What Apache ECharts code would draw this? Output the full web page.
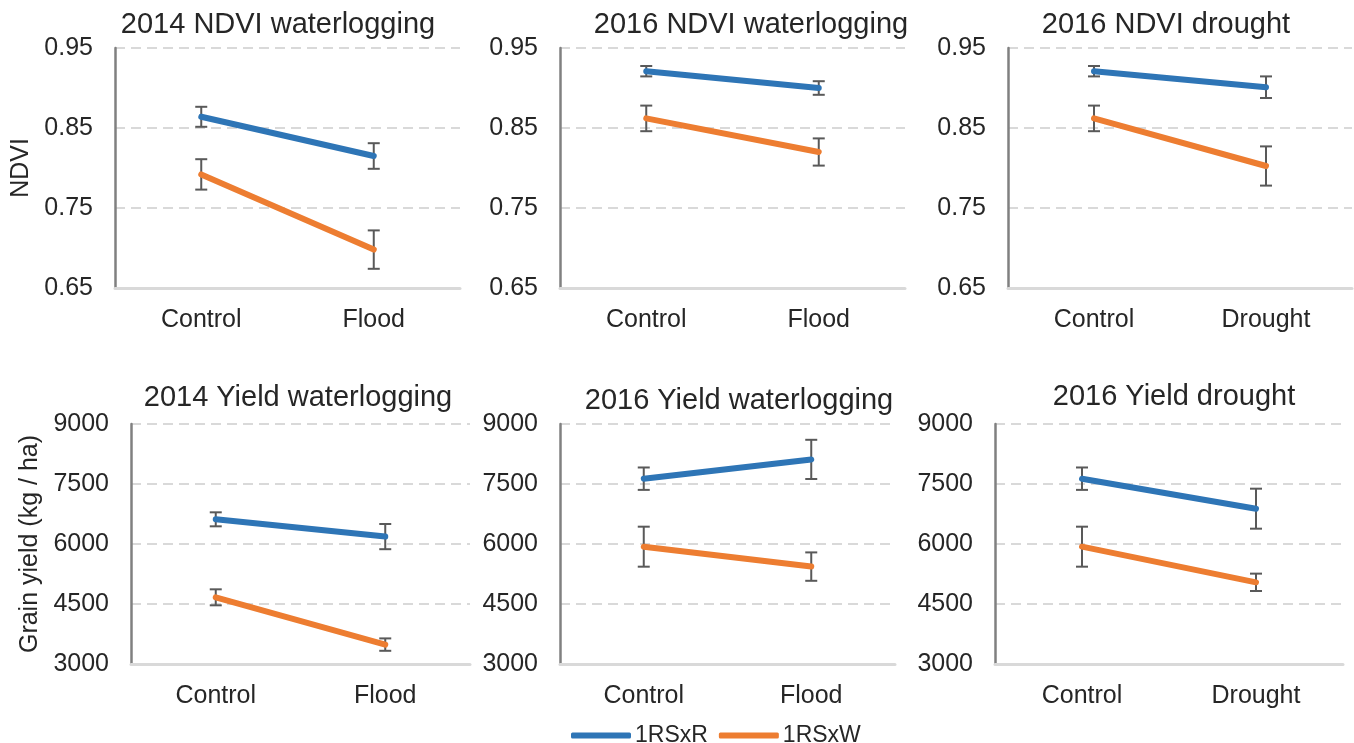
<!DOCTYPE html>
<html>
<head>
<meta charset="utf-8">
<title>NDVI and grain yield under waterlogging and drought</title>
<script src="https://cdn.jsdelivr.net/npm/echarts@6/dist/echarts.min.js"></script>
<style>
  html, body { margin: 0; padding: 0; background: #ffffff; }
  #chart { width: 1354px; height: 743px; }
</style>
</head>
<body>
<div id="chart"></div>
<script>
// Treatment categories
const catsFlood = ['Control', 'Flood'];
const catsDrought = ['Control', 'Drought'];

// Series names
const lineNames = ['1RSxR', '1RSxW'];

// Panel titles
const panelTitles = [
  '2014 NDVI waterlogging', '2016 NDVI waterlogging', '2016 NDVI drought',
  '2014 Yield waterlogging', '2016 Yield waterlogging', '2016 Yield drought'
];

// NDVI means and error half-widths
const ndvi14WlR = [0.864, 0.815];
const ndvi14WlRErr = [0.0125, 0.016];
const ndvi14WlW = [0.792, 0.698];
const ndvi14WlWErr = [0.019, 0.024];

const ndvi16WlR = [0.921, 0.900];
const ndvi16WlRErr = [0.0065, 0.0085];
const ndvi16WlW = [0.862, 0.820];
const ndvi16WlWErr = [0.016, 0.017];

const ndvi16DrR = [0.921, 0.901];
const ndvi16DrRErr = [0.0065, 0.0135];
const ndvi16DrW = [0.862, 0.8025];
const ndvi16DrWErr = [0.016, 0.0245];

// Grain yield means (kg/ha) and error half-widths
const yld14WlR = [6617, 6185];
const yld14WlRErr = [175, 315];
const yld14WlW = [4667, 3485];
const yld14WlWErr = [200, 155];

const yld16WlR = [7633, 8115];
const yld16WlRErr = [280, 490];
const yld16WlW = [5933, 5435];
const yld16WlWErr = [500, 355];

const yld16DrR = [7633, 6883];
const yld16DrRErr = [280, 500];
const yld16DrW = [5933, 5042];
const yld16DrWErr = [500, 217];

// Y axis ticks
const ndviTicks = [0.65, 0.75, 0.85, 0.95];
const yieldTicks = [3000, 4500, 6000, 7500, 9000];

// Y axis titles
const ndviAxisName = 'NDVI';
const yieldAxisName = 'Grain yield (kg / ha)';

const blue = '#2e75b6';
const orange = '#ed7d31';
const textColor = '#262626';
const errColor = '#595959';
const fontFamily = '"Liberation Sans", Arial, Helvetica, sans-serif';
const labelSize = 25;
const titleSize = 29;
const legendSize = 23;

// Panel layout: grid boxes and title anchors
const layout = [
  { left: 115, top: 48, width: 345, height: 240, tx: 278, ty: 25 },
  { left: 560, top: 48, width: 345, height: 240, tx: 751, ty: 25 },
  { left: 1008, top: 48, width: 344, height: 240, tx: 1166, ty: 25 },
  { left: 131, top: 424, width: 339, height: 240, tx: 298, ty: 398 },
  { left: 560, top: 424, width: 335, height: 240, tx: 739, ty: 401 },
  { left: 995, top: 424, width: 348, height: 240, tx: 1174, ty: 397 }
];

const panelData = [
  { cats: catsFlood, r: ndvi14WlR, rErr: ndvi14WlRErr, w: ndvi14WlW, wErr: ndvi14WlWErr, ticks: ndviTicks, name: ndviAxisName, nameGap: 81, digits: 2 },
  { cats: catsFlood, r: ndvi16WlR, rErr: ndvi16WlRErr, w: ndvi16WlW, wErr: ndvi16WlWErr, ticks: ndviTicks, name: '', nameGap: 0, digits: 2 },
  { cats: catsDrought, r: ndvi16DrR, rErr: ndvi16DrRErr, w: ndvi16DrW, wErr: ndvi16DrWErr, ticks: ndviTicks, name: '', nameGap: 0, digits: 2 },
  { cats: catsFlood, r: yld14WlR, rErr: yld14WlRErr, w: yld14WlW, wErr: yld14WlWErr, ticks: yieldTicks, name: yieldAxisName, nameGap: 88, digits: 0 },
  { cats: catsFlood, r: yld16WlR, rErr: yld16WlRErr, w: yld16WlW, wErr: yld16WlWErr, ticks: yieldTicks, name: '', nameGap: 0, digits: 0 },
  { cats: catsDrought, r: yld16DrR, rErr: yld16DrRErr, w: yld16DrW, wErr: yld16DrWErr, ticks: yieldTicks, name: '', nameGap: 0, digits: 0 }
];

// Vertical error bar with end caps
function renderErrorBar(params, api) {
  const x = api.value(0);
  const lo = api.coord([x, api.value(1)]);
  const hi = api.coord([x, api.value(2)]);
  const cap = 6;
  const style = { stroke: errColor, lineWidth: 2, fill: null };
  return {
    type: 'group',
    children: [
      { type: 'line', shape: { x1: lo[0], y1: lo[1], x2: hi[0], y2: hi[1] }, style: style },
      { type: 'line', shape: { x1: lo[0] - cap, y1: lo[1], x2: lo[0] + cap, y2: lo[1] }, style: style },
      { type: 'line', shape: { x1: hi[0] - cap, y1: hi[1], x2: hi[0] + cap, y2: hi[1] }, style: style }
    ]
  };
}

function errData(means, errs) {
  return means.map((m, i) => [i, m - errs[i], m + errs[i]]);
}

const grid = [], xAxis = [], yAxis = [], series = [], graphic = [];

panelData.forEach((p, i) => {
  const L = layout[i];
  grid.push({ left: L.left, top: L.top, width: L.width, height: L.height, containLabel: false });

  xAxis.push({
    type: 'category',
    gridIndex: i,
    data: p.cats,
    boundaryGap: true,
    axisLine: { show: true, lineStyle: { color: '#d9d9d9', width: 3 } },
    axisTick: { show: false },
    axisLabel: { color: textColor, fontSize: labelSize, fontFamily: fontFamily, margin: 20 },
    splitLine: { show: false }
  });

  const tMin = p.ticks[0];
  const tMax = p.ticks[p.ticks.length - 1];
  yAxis.push({
    type: 'value',
    gridIndex: i,
    min: tMin,
    max: tMax,
    interval: p.ticks[1] - p.ticks[0],
    name: p.name,
    nameLocation: 'middle',
    nameGap: p.nameGap,
    nameRotate: 90,
    nameTextStyle: { color: textColor, fontSize: labelSize, fontFamily: fontFamily },
    axisLine: { show: true, lineStyle: { color: '#808080', width: 2.5 } },
    axisTick: { show: false },
    axisLabel: {
      color: textColor, fontSize: labelSize, fontFamily: fontFamily, margin: 22,
      formatter: v => p.digits ? Number(v).toFixed(p.digits) : String(Math.round(v))
    },
    splitLine: { show: true, lineStyle: { color: '#d9d9d9', width: 2, type: [10, 6] } }
  });

  [[p.r, p.rErr, blue, 0], [p.w, p.wErr, orange, 1]].forEach(([means, errs, color, k]) => {
    series.push({
      type: 'custom',
      xAxisIndex: i,
      yAxisIndex: i,
      renderItem: renderErrorBar,
      data: errData(means, errs),
      z: 2,
      silent: true,
      encode: { x: 0, y: [1, 2] }
    });
    series.push({
      type: 'line',
      name: lineNames[k],
      xAxisIndex: i,
      yAxisIndex: i,
      data: means,
      color: color,
      showSymbol: false,
      symbol: 'none',
      z: 3,
      lineStyle: { color: color, width: 6, cap: 'round' },
      itemStyle: { color: color },
      animation: false
    });
  });

  graphic.push({
    type: 'text',
    x: L.tx,
    y: L.ty,
    style: {
      text: panelTitles[i],
      fill: textColor,
      font: titleSize + 'px ' + fontFamily,
      fontSize: titleSize,
      fontFamily: fontFamily,
      align: 'center',
      verticalAlign: 'middle',
      textAlign: 'center',
      textVerticalAlign: 'middle'
    }
  });
});

const chart = echarts.init(document.getElementById('chart'), null, { renderer: 'canvas' });
chart.setOption({
  backgroundColor: '#ffffff',
  animation: false,
  textStyle: { fontFamily: fontFamily },
  grid: grid,
  xAxis: xAxis,
  yAxis: yAxis,
  series: series,
  graphic: graphic,
  legend: {
    data: lineNames,
    left: 566,
    top: 719,
    icon: 'roundRect',
    itemWidth: 60,
    itemHeight: 6,
    itemGap: 11,
    textStyle: { color: textColor, fontSize: legendSize, fontFamily: fontFamily, padding: [0, 0, 0, -1] }
  }
});
</script>
</body>
</html>
